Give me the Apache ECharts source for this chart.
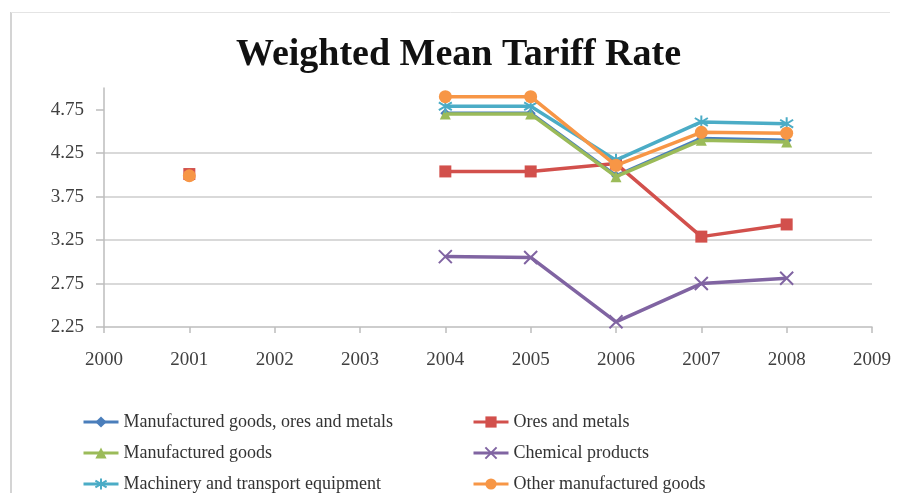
<!DOCTYPE html>
<html>
<head>
<meta charset="utf-8">
<script src="https://cdn.jsdelivr.net/npm/echarts@6/dist/echarts.min.js"></script>
<style>
  html, body { margin: 0; padding: 0; background: #ffffff; }
  #chart { width: 897px; height: 493px; }
</style>
</head>
<body>
<div id="chart"></div>
<script>
// Years on the horizontal axis (2002 and 2003 have no data)
const years = [2001, 2002, 2003, 2004, 2005, 2006, 2007, 2008];

// Weighted mean tariff rate by product group (%)
const manufacturedOresMetals = [null, null, null, 4.71, 4.71, 3.99, 4.42, 4.40];
const oresAndMetals          = [4.01, null, null, 4.04, 4.04, 4.13, 3.29, 3.43];
const manufacturedGoods      = [null, null, null, 4.70, 4.70, 3.98, 4.40, 4.38];
const chemicalProducts       = [null, null, null, 3.06, 3.05, 2.31, 2.75, 2.81];
const machineryTransport     = [null, null, null, 4.79, 4.79, 4.17, 4.61, 4.59];
const otherManufactured      = [3.99, null, null, 4.90, 4.90, 4.11, 4.49, 4.48];

const seriesNames = [
  'Manufactured goods, ores and metals',
  'Ores and metals',
  'Manufactured goods',
  'Chemical products',
  'Machinery and transport equipment',
  'Other manufactured goods'
];

const yTicks = [2.25, 2.75, 3.25, 3.75, 4.25, 4.75];

const colors = ['#4A7EBB', '#D2504C', '#9BBB59', '#8064A2', '#4BACC6', '#F79646'];

const xMark = 'path://M0,0 L10,10 M10,0 L0,10';
const starMark = 'path://M5,0 L5,10 M0,2 L10,8 M10,2 L0,8';
const symbols = ['diamond', 'rect', 'triangle', xMark, starMark, 'circle'];
const symbolSizes = [10, 12, 11, 13, 13, 13];

const valueSets = [manufacturedOresMetals, oresAndMetals, manufacturedGoods,
                   chemicalProducts, machineryTransport, otherManufactured];

const series = valueSets.map((vals, i) => {
  const isStroke = (i === 3 || i === 4);
  return {
    name: seriesNames[i],
    type: 'line',
    data: years.map((y, k) => [y, vals[k] === null ? '-' : vals[k]]),
    connectNulls: false,
    symbol: symbols[i],
    symbolSize: symbolSizes[i],
    showAllSymbol: true,
    color: colors[i],
    lineStyle: { width: 3.5, color: colors[i] },
    itemStyle: isStroke
      ? { color: 'transparent', borderColor: colors[i], borderWidth: 2 }
      : { color: colors[i], borderColor: colors[i], borderWidth: 0 },
    emphasis: { disabled: true },
    animation: false,
    z: 2 + i
  };
});

const serifFont = '"Liberation Serif", "DejaVu Serif", serif';

const legendBase = {
  orient: 'vertical',
  top: 413,
  padding: 0,
  itemWidth: 35,
  itemHeight: 14,
  itemGap: 13,
  lineStyle: { width: 3 },
  textStyle: { fontFamily: serifFont, fontSize: 18, color: '#333333' },
  selectedMode: false
};

const chart = echarts.init(document.getElementById('chart'), null, { renderer: 'canvas' });
chart.setOption({
  backgroundColor: '#ffffff',
  animation: false,
  title: {
    text: 'Weighted Mean Tariff Rate',
    left: 236,
    top: 36,
    padding: 0,
    textStyle: { fontFamily: serifFont, fontWeight: 'bold', fontSize: 38, color: '#111111' }
  },
  graphic: [
    { type: 'line', shape: { x1: 11, y1: 12, x2: 11, y2: 493 }, style: { stroke: '#d4d4d4', lineWidth: 2 } },
    { type: 'line', shape: { x1: 11, y1: 12.5, x2: 890, y2: 12.5 }, style: { stroke: '#e4e4e4', lineWidth: 1 } }
  ],
  grid: { left: 104, right: 25, top: 88, bottom: 166 },
  xAxis: {
    type: 'value',
    min: 2000,
    max: 2009,
    interval: 1,
    axisLine: { show: true, lineStyle: { color: '#bdbdbd', width: 1.5 } },
    axisTick: { show: true, length: 6, lineStyle: { color: '#bdbdbd', width: 1.5 } },
    splitLine: { show: false },
    axisLabel: {
      margin: 24,
      fontFamily: serifFont,
      fontSize: 19,
      color: '#404040',
      formatter: v => String(v)
    }
  },
  yAxis: {
    type: 'value',
    min: 2.25,
    max: 5.0,
    interval: 0.5,
    axisLine: { show: true, lineStyle: { color: '#bdbdbd', width: 1.5 } },
    axisTick: { show: true, length: 8, customValues: yTicks, lineStyle: { color: '#bdbdbd', width: 1.5 } },
    splitLine: { show: true, showMinLine: false, showMaxLine: false, lineStyle: { color: '#cccccc', width: 1.5 } },
    axisLabel: {
      margin: 20,
      customValues: yTicks,
      fontFamily: serifFont,
      fontSize: 19,
      color: '#404040',
      formatter: v => v.toFixed(2)
    }
  },
  legend: [
    Object.assign({}, legendBase, { data: [seriesNames[0], seriesNames[2], seriesNames[4]], left: 82 }),
    Object.assign({}, legendBase, { data: [seriesNames[1], seriesNames[3], seriesNames[5]], left: 472 })
  ],
  series: series
});
</script>
</body>
</html>
